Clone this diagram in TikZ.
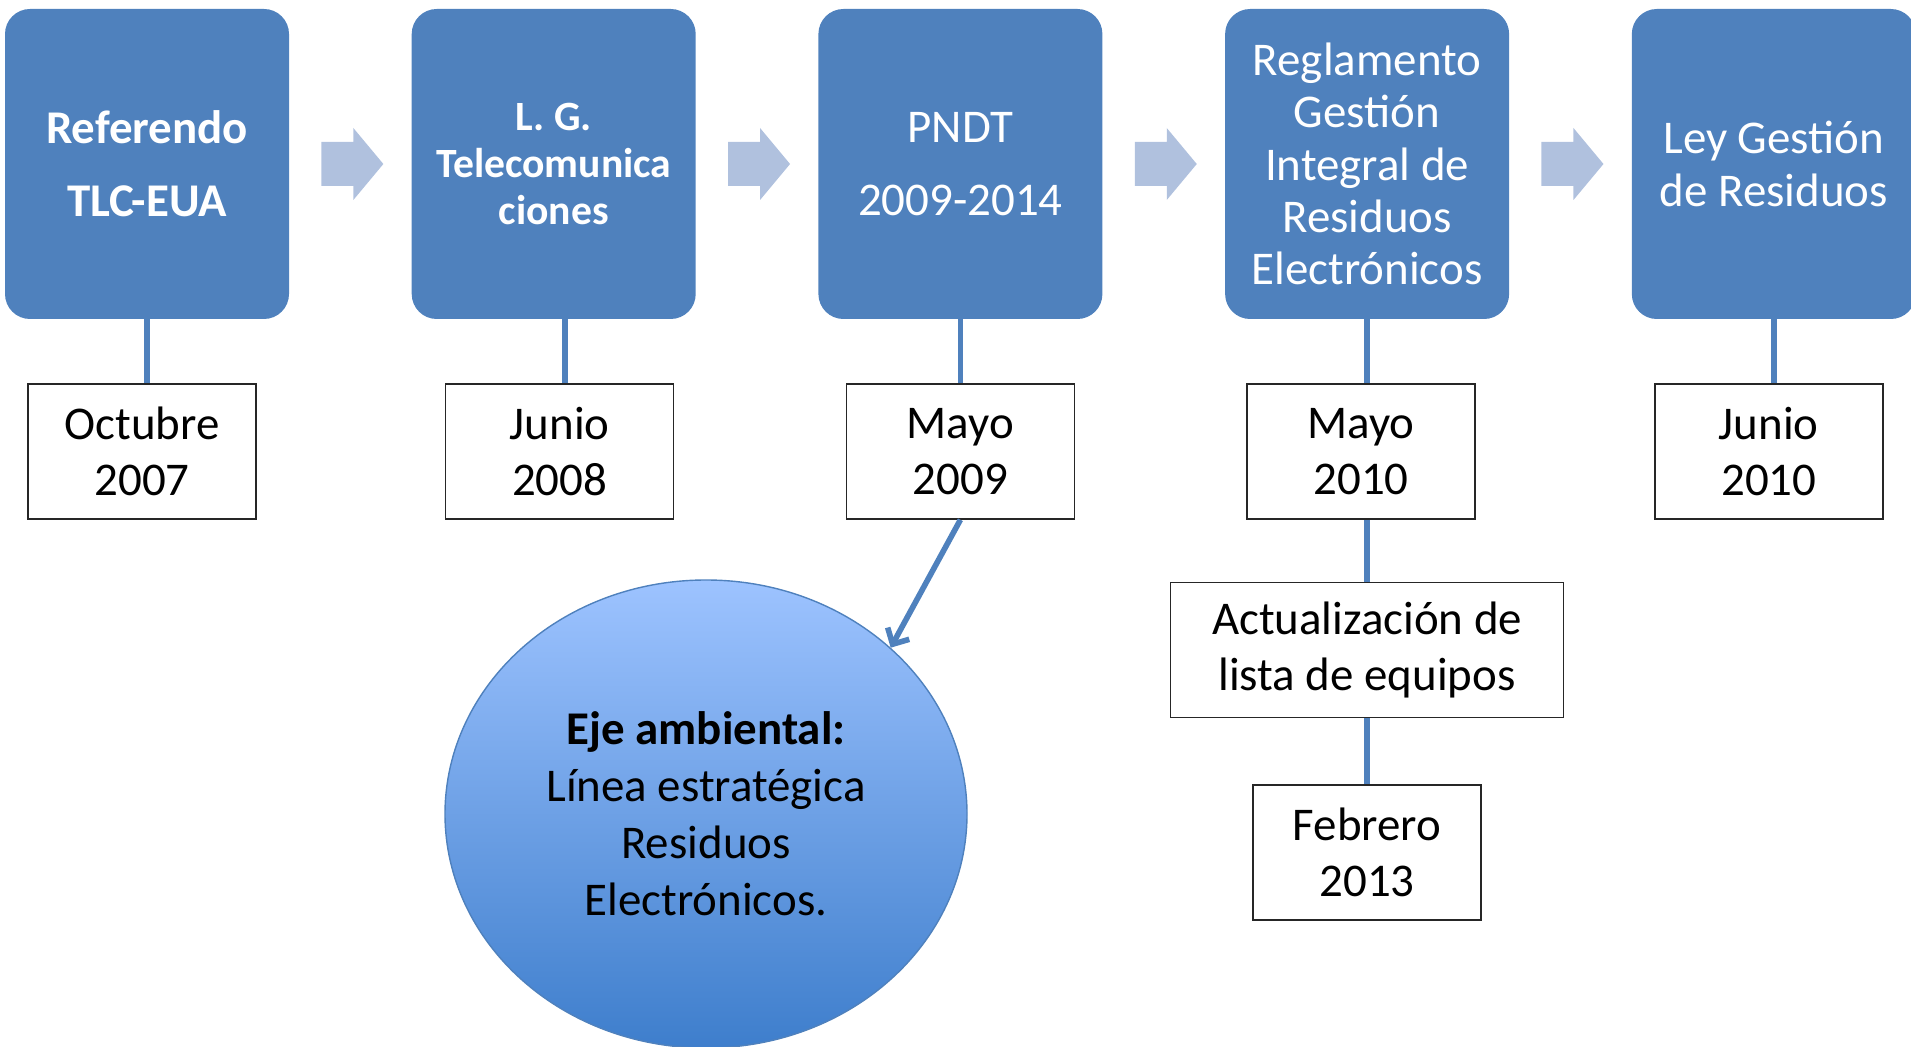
\documentclass[tikz,border=0pt]{standalone}
\usepackage{fontspec}
\setmainfont{Carlito}
\usepackage{tikz}
\usetikzlibrary{arrows.meta,shapes.geometric,positioning,calc}

\definecolor{azulcaja}{RGB}{79,129,189}
\definecolor{azulflecha}{RGB}{176,193,222}
\definecolor{azulclaro}{RGB}{157,195,255}
\definecolor{azuloscuro}{RGB}{62,126,204}

\newcommand{\letra}[2]{\fontsize{#1}{#2}\selectfont}

\begin{document}
\begin{tikzpicture}[node distance=2.44cm,
    evento/.style={fill=azulcaja, rounded corners=0.5cm, text=white, minimum width=5.68cm, minimum height=6.2cm, align=center, inner sep=2pt},
    fecha/.style={draw=black!85, line width=0.8pt, fill=white, minimum width=4.56cm, minimum height=2.7cm, align=center, font=\letra{26.7pt}{31.9pt}},
    enlace/.style={draw=azulcaja, line width=3.2pt},
    flecha/.style={fill=azulflecha},
    >={Straight Barb[length=7pt,width=14pt]}]
    \useasboundingbox (0,0) rectangle (38.22,-20.94);

    % linea de tiempo
    \node (ref) [evento, font=\bfseries\letra{26.7pt}{41.5pt}] at (2.94,-3.28) {Referendo\\TLC-EUA};
    \node (lgt) [evento, font=\bfseries\letra{23.7pt}{26.7pt}, right=of ref] {L. G.\\Telecomunica\\ciones};
    \node (pndt) [evento, font=\letra{26.7pt}{41.5pt}, right=of lgt] {PNDT\\2009-2014};
    \node (regl) [evento, font=\letra{26.7pt}{29.8pt}, right=of pndt] {Reglamento\\Gestión\\Integral de\\Residuos\\Electrónicos};
    \node (ley) [evento, font=\letra{26.7pt}{29.8pt}, right=of regl] {Ley Gestión\\de Residuos};

    \foreach \a in {ref,lgt,pndt,regl}
        \fill[flecha] ($(\a.east)+(0.64,0.44)$) -- ++(0.64,0) -- ++(0,0.28) -- ++(0.6,-0.72) -- ++(-0.6,-0.72) -- ++(0,0.28) -- ++(-0.64,0) -- cycle;

    % fechas
    \node (oct07) [fecha, below=1.28cm of ref, xshift=-0.1cm] {Octubre\\2007};
    \node (jun08) [fecha, below=1.28cm of lgt, xshift=0.12cm] {Junio\\2008};
    \node (may09) [fecha, below=1.28cm of pndt] {Mayo\\2009};
    \node (may10) [fecha, below=1.28cm of regl, xshift=-0.12cm] {Mayo\\2010};
    \node (jun10) [fecha, below=1.28cm of ley, xshift=-0.1cm] {Junio\\2010};
    \node (lista) [fecha, minimum width=7.86cm, below=1.24cm of regl.south |- may10.south] {Actualización de\\lista de equipos};
    \node (feb13) [fecha, below=1.32cm of lista] {Febrero\\2013};

    \node (eje) [ellipse, draw=azulcaja, line width=0.8pt, top color=azulclaro, bottom color=azuloscuro, minimum width=10.44cm, minimum height=9.36cm, inner sep=0pt, align=center, font=\letra{26.7pt}{32.4pt}] at (14.12,-16.28) {\textbf{Eje ambiental:}\\Línea estratégica\\Residuos\\Electrónicos.};

    \draw[enlace] (ref.south) -- (ref.south |- oct07.north);
    \draw[enlace] ([xshift=0.22cm]lgt.south) -- ([xshift=0.22cm]lgt.south |- jun08.north);
    \draw[enlace] (pndt) -- (may09);
    \draw[enlace] (regl) -- (regl.south |- may10.north);
    \draw[enlace] (regl.south |- may10.south) -- (lista);
    \draw[enlace] (lista) -- (feb13);
    \draw[enlace] (ley) -- (ley.south |- jun10.north);
    \draw[enlace, ->] (may09.south) -- (eje.42);
\end{tikzpicture}
\end{document}
